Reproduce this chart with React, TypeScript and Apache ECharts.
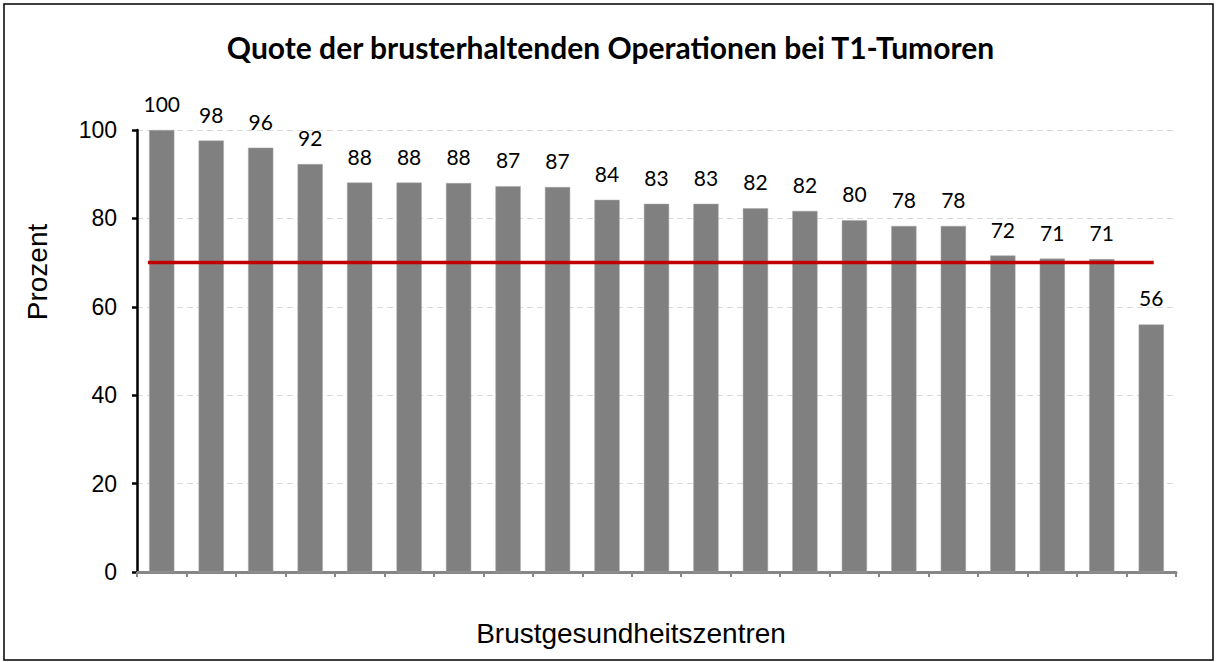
import React, { useEffect, useRef } from "react";
import * as echarts from "echarts";

const titleText = "Quote der brusterhaltenden Operationen bei T1-Tumoren";
const yAxisName = "Prozent";
const xAxisName = "Brustgesundheitszentren";
const categories = ["1","2","3","4","5","6","7","8","9","10","11","12","13","14","15","16","17","18","19","20","21"];
const values = [100, 97.6, 96.0, 92.3, 88.1, 88.1, 88.0, 87.3, 87.1, 84.2, 83.3, 83.3, 82.3, 81.7, 79.6, 78.3, 78.3, 71.6, 70.9, 70.8, 56.0];
const targetValue = 70;
const targetSpan = [0.22, 20.55];
const yTicks = { min: 0, max: 100, interval: 20 };

export default function App() {
  const ref = useRef<HTMLDivElement>(null);
  useEffect(() => {
    if (!ref.current) return;
    const chart = echarts.init(ref.current, undefined, { renderer: "svg" });
    const grid = { left: 137, right: 45, top: 130, bottom: 90 };
    chart.setOption({
      animation: false,
      backgroundColor: "#ffffff",
      title: {
        text: titleText,
        left: "center",
        top: 27,
        textStyle: { fontFamily: "Lato", fontWeight: "bold", fontSize: 30, color: "#000" },
      },
      grid,
      xAxis: [
        {
          type: "category",
          data: categories,
          offset: 3,
          axisLine: { lineStyle: { color: "#868686", width: 3 } },
          axisTick: { show: true, length: 5, lineStyle: { color: "#868686", width: 2 } },
          axisLabel: { show: false },
          splitLine: { show: false },
        },
        {
          type: "value",
          min: 0,
          max: categories.length,
          show: false,
        },
      ],
      yAxis: {
        type: "value",
        min: yTicks.min,
        max: yTicks.max,
        interval: yTicks.interval,
        axisLine: { show: true, lineStyle: { color: "#000", width: 2.5 } },
        axisTick: { show: true, length: 5, lineStyle: { color: "#000", width: 2.5 } },
        axisLabel: { fontFamily: "Liberation Sans, Arial", fontSize: 23, color: "#000", margin: 20 },
        splitLine: { show: true, lineStyle: { color: "#d9d9d9", type: [6, 4], width: 1 } },
      },
      graphic: [
        {
          type: "rect",
          shape: { x: 4, y: 4, width: 1209, height: 656 },
          style: { fill: "none", stroke: "#000", lineWidth: 1.5 },
          silent: true,
        },
        {
          type: "text",
          x: 37,
          y: 272,
          rotation: Math.PI / 2,
          style: {
            text: yAxisName,
            font: "28px 'Liberation Sans', Arial",
            fill: "#000",
            textAlign: "center",
            textVerticalAlign: "middle",
          },
        },
        {
          type: "text",
          x: 631,
          y: 633,
          style: {
            text: xAxisName,
            font: "28px 'Liberation Sans', Arial",
            fill: "#000",
            textAlign: "center",
            textVerticalAlign: "middle",
          },
        },
      ],
      series: [
        {
          type: "bar",
          xAxisIndex: 0,
          data: values,
          barCategoryGap: "49%",
          itemStyle: { color: "#808080", borderColor: "#a6a6a6", borderWidth: 0.5 },
          label: {
            show: true,
            position: "top",
            distance: 16,
            fontFamily: "Lato",
            fontSize: 21,
            color: "#000",
            formatter: (p: any) => String(Math.round(p.value)),
          },
          z: 2,
        },
        {
          type: "line",
          xAxisIndex: 1,
          data: [
            [targetSpan[0], targetValue],
            [targetSpan[1], targetValue],
          ],
          symbol: "none",
          lineStyle: { color: "#c00000", width: 3.5 },
          z: 5,
        },
      ],
    });
    return () => chart.dispose();
  }, []);
  return (
    <div
      ref={ref}
      style={{ position: "fixed", left: 0, top: 0, width: 1221, height: 662 }}
    />
  );
}
